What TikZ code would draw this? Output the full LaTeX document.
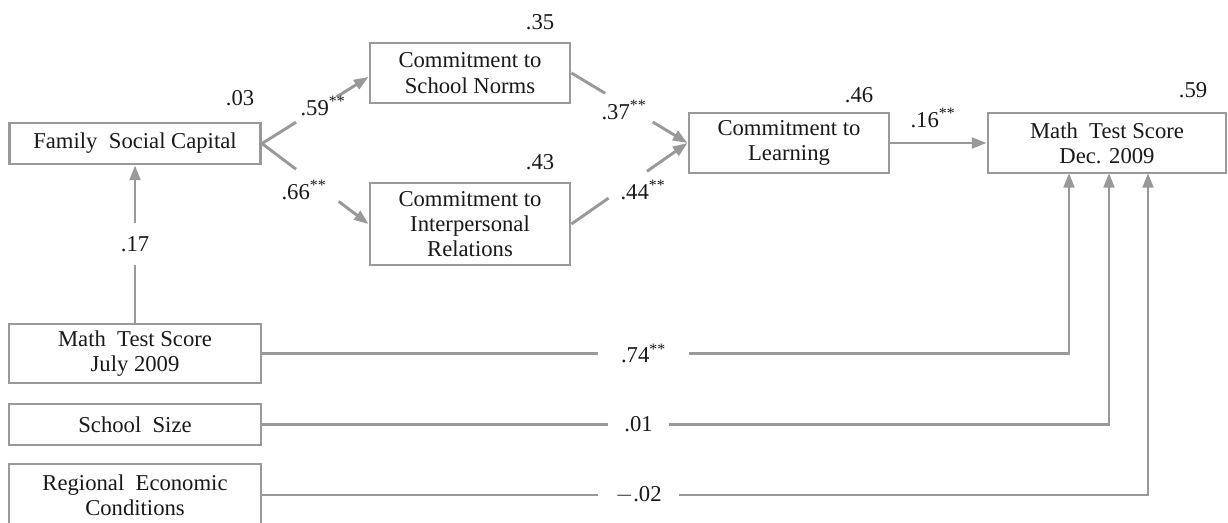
\documentclass[tikz,border=0pt]{standalone}
\usepackage{fontspec}
\setmainfont{Liberation Serif}
\usetikzlibrary{arrows.meta,calc}
\newdimen\pxu
\pxu=0.75pt
\definecolor{lg}{RGB}{153,153,153}
\definecolor{tx}{RGB}{25,25,25}
\tikzset{
  box/.style={draw=lg, line width=2.2pt, fill=white, text=tx, align=center,
    inner sep=0pt, font=\fontsize{17}{19}\selectfont},
  conn/.style={draw=lg, line width=2.2pt},
  arr/.style={conn, -{Triangle[length=11pt,width=8pt]}},
  lbl/.style={text=tx, inner sep=0pt, font=\fontsize{17}{19}\selectfont},
  gaplbl/.style={lbl, fill=white}
}
\begin{document}
\begin{tikzpicture}[x=0.75pt,y=-0.75pt]
\useasboundingbox (0,0) rectangle (1228,523);
\clip (0,0) rectangle (1228,523);
% boxes
\node[box, minimum width=251\pxu, minimum height=41\pxu] (fam) at (135,143.5) {Family\ \ Social Capital};
\node[box, minimum width=200\pxu, minimum height=60\pxu] (norms) at (470,73) {Commitment to\\School Norms};
\node[box, minimum width=200\pxu, minimum height=82\pxu] (inter) at (470,224) {Commitment to\\Interpersonal\\Relations};
\node[box, minimum width=200\pxu, minimum height=60\pxu] (learn) at (789,143) {Commitment to\\Learning};
\node[box, minimum width=238\pxu, minimum height=60\pxu] (dec) at (1107,143) {Math\ \ Test Score\\Dec. 2009};
\node[box, minimum width=252\pxu, minimum height=59\pxu] (july) at (135,353.5) {Math\ \ Test Score\\July 2009};
\node[box, minimum width=252\pxu, minimum height=41\pxu] (size) at (135,424.5) {School\ \ Size};
\node[box, minimum width=252\pxu, minimum height=62\pxu] (reg) at (135,495) {Regional\ \ Economic\\Conditions};
% R-squared values
\node[lbl] (r03) at (240,98) {.03};
\node[lbl] (r35) at (540,22) {.35};
\node[lbl] (r43) at (540,162) {.43};
\node[lbl] (r46) at (859,95) {.46};
\node[lbl] (r59) at (1193,90) {.59};
% targets
\coordinate (nt) at ($(norms.west)+(0,4)$);
\coordinate (d1) at (1069,173);
\coordinate (d2) at (1109,173);
\coordinate (d3) at (1148,173);
% diagonal paths with gaps
\draw[conn] (fam.east) -- ($(fam.east)!0.32!(nt)$);
\draw[arr] ($(fam.east)!0.70!(nt)$) -- (nt);
\node[lbl] (p59) at (323,106) {.59\textsuperscript{**}};
\draw[conn] (fam.east) -- ($(fam.east)!0.32!(inter.west)$);
\draw[arr] ($(fam.east)!0.72!(inter.west)$) -- (inter.west);
\node[lbl] (p66) at (304,190) {.66\textsuperscript{**}};
\draw[conn] (norms.east) -- ($(norms.east)!0.29!(learn.west)$);
\draw[arr] ($(norms.east)!0.70!(learn.west)$) -- (learn.west);
\node[lbl] (p37) at (624,110) {.37\textsuperscript{**}};
\draw[conn] (inter.east) -- ($(inter.east)!0.32!(learn.west)$);
\draw[arr] ($(inter.east)!0.65!(learn.west)$) -- (learn.west);
\node[lbl] (p44) at (643,190) {.44\textsuperscript{**}};
% learning to dec
\draw[arr] (learn.east) -- (dec.west);
\node[lbl] (p16) at (933,118) {.16\textsuperscript{**}};
% july to family
\node[gaplbl, minimum height=42\pxu] (p17) at (135,244) {.17};
\draw[conn] (july.north) -- (p17.south);
\draw[arr] (p17.north) -- (fam.south);
% bottom paths
\node[gaplbl, minimum width=91\pxu] (p74) at (643.5,353.5) {.74\textsuperscript{**}};
\draw[conn] (july.east) -- (p74.west);
\draw[arr] (p74.east) -| (d1);
\node[gaplbl, minimum width=61\pxu] (p01) at (638.5,424.5) {.01};
\draw[conn] (size.east) -- (p01.west);
\draw[arr] (p01.east) -| (d2);
\node[gaplbl, minimum width=81\pxu] (p02) at (638.5,495) {$-$.02};
\draw[conn] (reg.east) -- (p02.west);
\draw[arr] (p02.east) -| (d3);
\end{tikzpicture}
\end{document}
